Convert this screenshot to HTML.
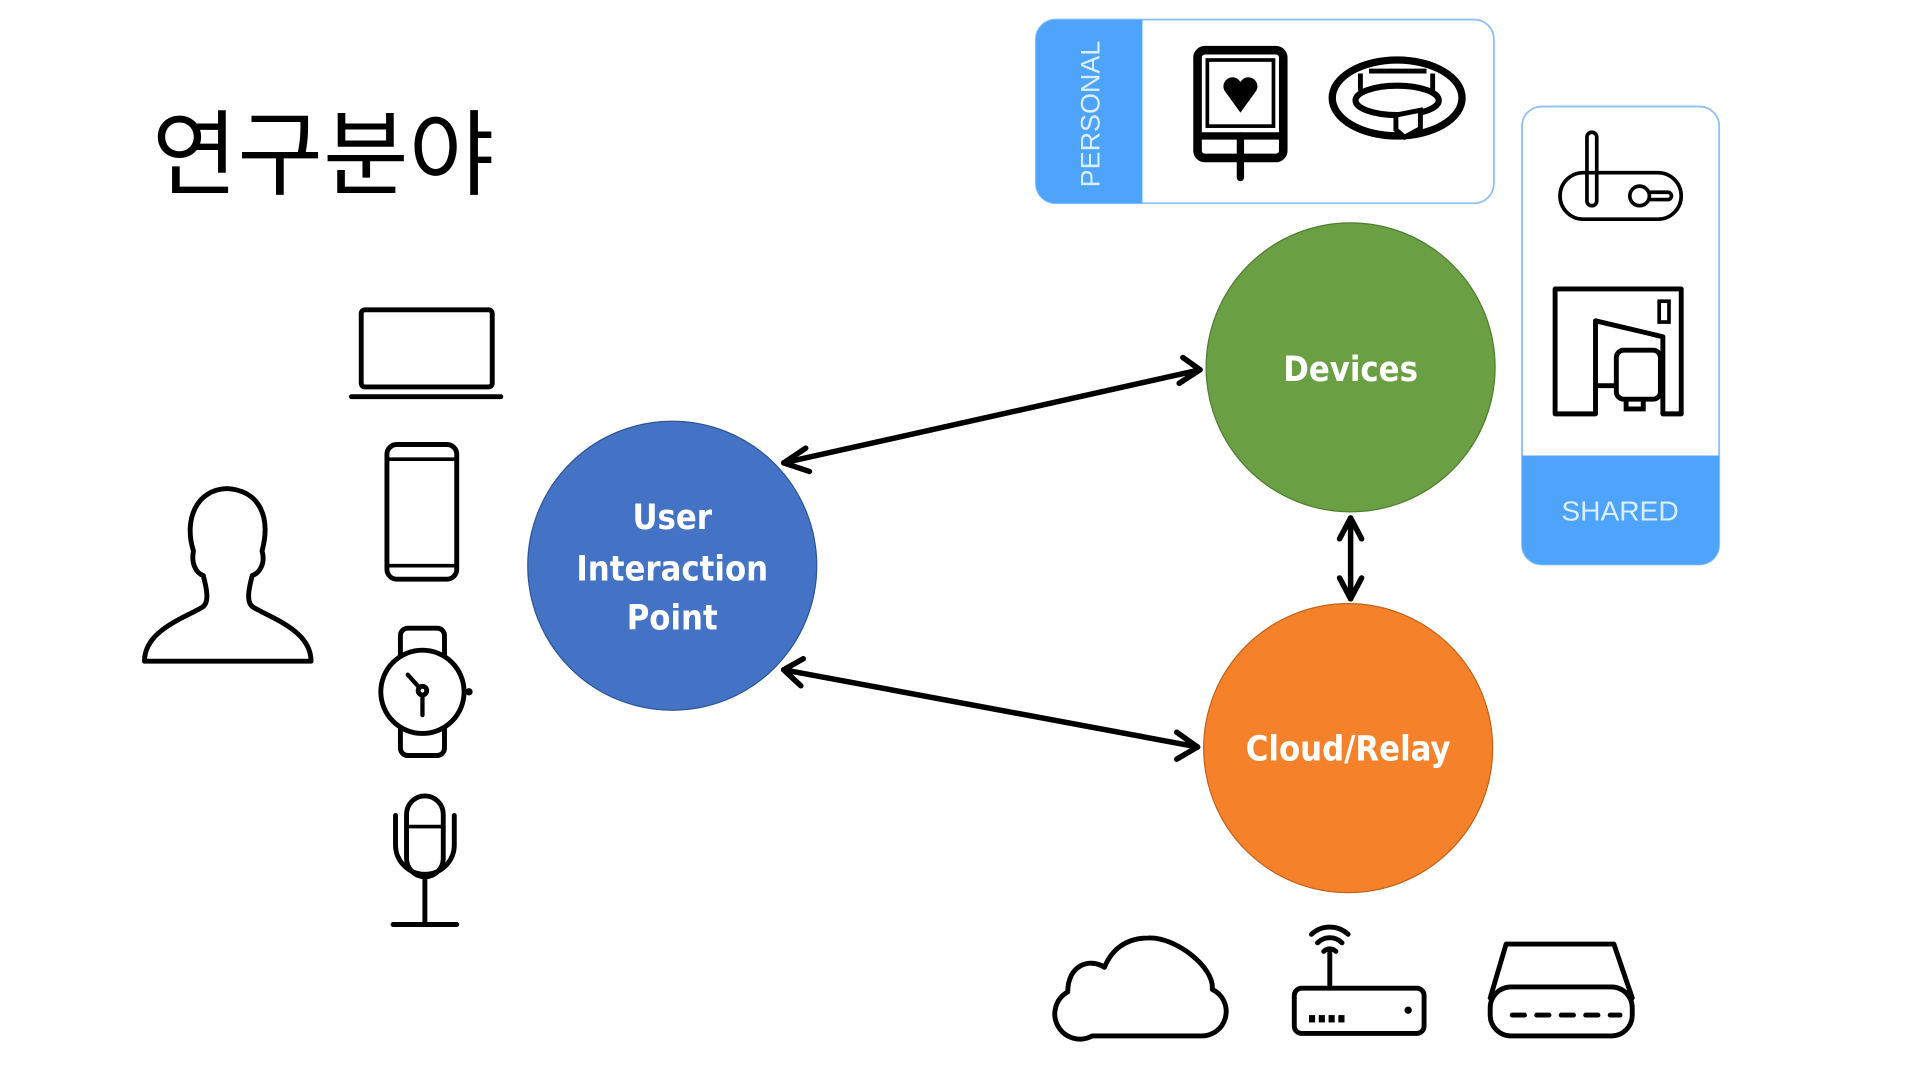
<!DOCTYPE html>
<html><head><meta charset="utf-8"><style>
html,body{margin:0;padding:0;background:#fff;width:1920px;height:1080px;overflow:hidden}
svg{display:block}
</style></head><body>
<svg width="1920" height="1080" viewBox="0 0 1568 882" xmlns="http://www.w3.org/2000/svg">
<rect width="1568" height="882" fill="#fff"/>
<text x="124" y="153" font-family="'Liberation Sans','Noto Sans CJK KR',sans-serif" font-size="76" fill="#000">연구분야</text>

<!-- Personal box -->
<rect x="846" y="16" width="374" height="150" rx="16" fill="#fff" stroke="#8fc1f5" stroke-width="1.5"/>
<path d="M862 16 H933 V166 H862 A16 16 0 0 1 846 150 V32 A16 16 0 0 1 862 16Z" fill="#4ea4fb"/>
<text transform="translate(898,153) rotate(-90)" font-family="'Liberation Sans',sans-serif" font-size="22" fill="#dbeeff">PERSONAL</text>
<rect x="978" y="41" width="70" height="88" rx="6" fill="none" stroke="#000" stroke-width="7"/>
<rect x="986" y="49" width="54" height="54" fill="none" stroke="#000" stroke-width="3"/>
<line x1="978" y1="111" x2="1048" y2="111" stroke="#000" stroke-width="6"/>
<line x1="1013" y1="111" x2="1013" y2="145" stroke="#000" stroke-width="6" stroke-linecap="round"/>
<path d="M1013 92 L1000 74 A7 7 0 0 1 1013 67 A7 7 0 0 1 1026 74Z" fill="#000"/>
<ellipse cx="1141" cy="80" rx="53" ry="31" fill="none" stroke="#000" stroke-width="6"/>
<ellipse cx="1141" cy="82" rx="34" ry="12" fill="none" stroke="#000" stroke-width="5"/>
<path d="M1111 60 L1111 74 M1170 60 L1170 74 M1118 58 H1165" stroke="#000" stroke-width="4" fill="none"/>
<path d="M1140 94 L1160 90 L1160 105 L1147 112 L1140 106Z" fill="#fff" stroke="#000" stroke-width="4"/>

<!-- Shared box -->
<rect x="1243" y="87" width="161" height="374" rx="16" fill="#fff" stroke="#8fc1f5" stroke-width="1.5"/>
<path d="M1243 372 H1404 V445 A16 16 0 0 1 1388 461 H1259 A16 16 0 0 1 1243 445Z" fill="#4ea4fb"/>
<text x="1323" y="425" text-anchor="middle" font-family="'Liberation Sans',sans-serif" font-size="23" fill="#dbeeff">SHARED</text>
<rect x="1274" y="141" width="99" height="38" rx="19" fill="none" stroke="#000" stroke-width="3"/>
<rect x="1296" y="108" width="8" height="60" rx="4" fill="none" stroke="#000" stroke-width="3"/>
<circle cx="1339" cy="160" r="8" fill="none" stroke="#000" stroke-width="3"/>
<path d="M1347 157 H1362 A3 3 0 0 1 1362 163 H1347" fill="none" stroke="#000" stroke-width="3"/>
<path d="M1270 338 V236 H1373 V338 H1358 V275 L1303 262 V338Z" fill="none" stroke="#000" stroke-width="4" stroke-linejoin="round"/>
<rect x="1355" y="246" width="8" height="17" fill="none" stroke="#000" stroke-width="3"/>
<rect x="1320" y="286" width="36" height="40" rx="6" fill="#fff" stroke="#000" stroke-width="4"/>
<path d="M1303 315 H1320 M1328 326 V334 H1342 V326" fill="none" stroke="#000" stroke-width="4"/>

<!-- arrows -->
<g stroke="#000" stroke-width="4.5" fill="none" stroke-linecap="round" stroke-linejoin="round">
<line x1="640" y1="378" x2="980" y2="302"/>
<path d="M658 366 L640 378 L661 385"/>
<path d="M966 292 L980 302 L963 313"/>
<line x1="640" y1="547" x2="978" y2="610"/>
<path d="M656 538 L640 547 L654 560"/>
<path d="M961 598 L978 610 L961 620"/>
<line x1="1103" y1="423" x2="1103" y2="489"/>
<path d="M1094 440 L1103 423 L1112 440"/>
<path d="M1094 472 L1103 489 L1112 472"/>
</g>

<circle cx="549" cy="462" r="118" fill="#4472c4" stroke="#2f5597" stroke-width="1"/>
<circle cx="1103" cy="300" r="118" fill="#6b9f43" stroke="#507e30" stroke-width="1"/>
<circle cx="1101" cy="611" r="118" fill="#f5822a" stroke="#c4621a" stroke-width="1"/>
<g font-family="'DejaVu Sans Condensed','Liberation Sans',sans-serif" font-size="28" fill="#fff" text-anchor="middle" font-weight="600">
<text x="549" y="432">User</text>
<text x="549" y="474">Interaction</text>
<text x="549" y="514">Point</text>
<text x="1103" y="311">Devices</text>
<text x="1101" y="621">Cloud/Relay</text>
</g>

<!-- left icons -->
<g fill="none" stroke="#000" stroke-width="4" stroke-linejoin="round" stroke-linecap="round">
<path d="M118 540 C118 515 150 505 165 496 C172 492 168 478 166 470 C160 468 156 460 158 450 C150 425 160 400 185 399 C210 400 222 420 214 450 C217 460 212 468 206 470 C204 478 200 492 207 496 C222 505 254 515 254 540Z"/>
<rect x="295" y="253" width="107" height="63" rx="3"/>
<line x1="287" y1="324" x2="409" y2="324"/>
<rect x="316" y="363" width="57" height="110" rx="8"/>
<line x1="316" y1="375" x2="373" y2="375" stroke-width="3"/>
<line x1="316" y1="462" x2="373" y2="462" stroke-width="3"/>
<rect x="327" y="513" width="36" height="104" rx="6"/>
<circle cx="345" cy="565" r="34" fill="#fff"/>
<circle cx="345" cy="564" r="3.5"/>
<path d="M345 568 V584 M342 561 L333 551" stroke-width="3.5"/>
<rect x="332" y="650" width="30" height="66" rx="15"/>
<line x1="332" y1="675" x2="362" y2="675" stroke-width="3"/>
<path d="M323 666 V690 A24 24 0 0 0 371 690 V666"/>
<path d="M347 714 V755 M321 755 H373"/>
</g>
<circle cx="383" cy="565" r="3" fill="#000"/>

<!-- bottom icons -->
<g fill="none" stroke="#000" stroke-width="4" stroke-linejoin="round" stroke-linecap="round">
<path d="M892 846 H980 A20 20 0 0 0 990 808 C992 790 960 765 938 766 C920 766 908 775 902 790 C890 782 872 788 872 810 A20 20 0 0 0 892 846Z"/>
<rect x="1057" y="807" width="106" height="37" rx="6"/>
<path d="M1086 807 V776"/>
<path d="M1071 763 A22 22 0 0 1 1101 763 M1076 770 A14 14 0 0 1 1096 770 M1081 777 A7 7 0 0 1 1091 777"/>
<path d="M1230 771 H1318 L1333 815 M1230 771 L1217 815"/>
<rect x="1217" y="806" width="116" height="40" rx="17"/>
</g>
<g fill="#000">
<rect x="1069" y="829" width="5" height="6"/><rect x="1077" y="829" width="5" height="6"/><rect x="1085" y="829" width="5" height="6"/><rect x="1093" y="829" width="5" height="6"/>
<circle cx="1150" cy="825" r="3"/>
<rect x="1233" y="827" width="14" height="4" rx="2"/><rect x="1253" y="827" width="14" height="4" rx="2"/><rect x="1273" y="827" width="14" height="4" rx="2"/><rect x="1293" y="827" width="14" height="4" rx="2"/><rect x="1313" y="827" width="12" height="4" rx="2"/>
</g>
</svg>
</body></html>
